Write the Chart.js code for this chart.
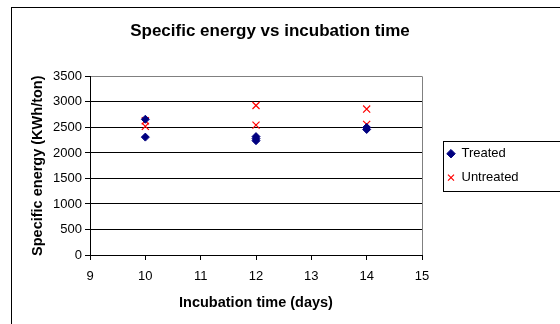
<!DOCTYPE html>
<html>
<head>
<meta charset="utf-8">
<script src="https://cdn.jsdelivr.net/npm/chart.js@4"></script>
<style>
  html, body { margin: 0; padding: 0; background: #fff; overflow: hidden; }
  #wrap { position: relative; width: 560px; height: 324px; }
</style>
</head>
<body>
<div id="wrap"><canvas id="chart" width="560" height="324"></canvas></div>
<script>
// incubation time (days) and specific energy (KWh/ton)
const treatedDays = [10, 10, 12, 12, 12, 14, 14];
const treatedEnergy = [2660, 2310, 2320, 2280, 2240, 2500, 2460];
const untreatedDays = [10, 10, 12, 12, 14, 14];
const untreatedEnergy = [2630, 2520, 2930, 2545, 2860, 2560];
const xTicks = [9, 10, 11, 12, 13, 14, 15];
const yTicks = [0, 500, 1000, 1500, 2000, 2500, 3000, 3500];

const FONT = "'Liberation Sans', Arial, sans-serif";

function toPoints(xs, ys) {
  return xs.map((x, i) => ({ x: x, y: ys[i] }));
}

// white page with the outer chart frame
const frame = {
  id: "frame",
  beforeDraw(chart) {
    const ctx = chart.ctx;
    ctx.save();
    ctx.fillStyle = "#fff";
    ctx.fillRect(0, 0, chart.width, chart.height);
    ctx.strokeStyle = "#000";
    ctx.lineWidth = 1;
    ctx.strokeRect(11.5, 7.5, chart.width + 20, chart.height + 20);
    ctx.restore();
  },
};

// box round the legend, like the spreadsheet one
const legendBox = {
  id: "legendBox",
  afterDraw(chart) {
    const boxes = chart.legend.legendHitBoxes;
    if (!boxes || !boxes.length) return;
    const ctx = chart.ctx;
    const top = Math.round(boxes[0].top - 6.5) + 0.5;
    const bottom = Math.round(boxes[boxes.length - 1].top + boxes[boxes.length - 1].height + 6.5) + 0.5;
    const left = Math.round(chart.legend.left + 7) + 0.5;
    ctx.save();
    ctx.strokeStyle = "#000";
    ctx.lineWidth = 1;
    ctx.strokeRect(left, top, chart.width + 20 - left, bottom - top);
    ctx.restore();
  },
};

new Chart(document.getElementById("chart"), {
  type: "scatter",
  data: {
    datasets: [
      {
        label: "Treated",
        data: toPoints(treatedDays, treatedEnergy),
        pointStyle: "rectRot",
        pointRadius: 4,
        pointHoverRadius: 4,
        backgroundColor: "#000080",
        borderColor: "#000080",
        borderWidth: 1,
      },
      {
        label: "Untreated",
        data: toPoints(untreatedDays, untreatedEnergy),
        pointStyle: "crossRot",
        pointRadius: 5,
        pointHoverRadius: 5,
        backgroundColor: "#ff0000",
        borderColor: "#ff0000",
        borderWidth: 1.2,
      },
    ],
  },
  options: {
    responsive: false,
    animation: false,
    events: [],
    layout: { padding: { left: 21, right: 41, top: 0, bottom: 0 } },
    plugins: {
      title: {
        display: true,
        text: "Specific energy vs incubation time",
        color: "#000",
        font: { family: FONT, size: 17, weight: "bold" },
        padding: { top: 21, bottom: 35 },
      },
      legend: {
        position: "right",
        fullSize: false,
        align: "center",
        labels: {
          usePointStyle: true,
          boxWidth: 8,
          boxHeight: 6,
          padding: 11,
          color: "#000",
          font: { family: FONT, size: 13 },
        },
      },
      tooltip: { enabled: false },
    },
    scales: {
      x: {
        type: "linear",
        min: 9,
        max: 15,
        afterBuildTicks: (axis) => {
          axis.ticks = xTicks.map((v) => ({ value: v }));
        },
        afterFit: (axis) => {
          axis.height = 69;
        },
        ticks: {
          color: "#000",
          padding: 9,
          font: { family: FONT, size: 13 },
          callback: (v) => String(v),
        },
        grid: {
          color: (c) => (c.tick && c.tick.value === 15 ? "#808080" : "rgba(0,0,0,0)"),
          tickColor: "#000",
          tickLength: 5,
        },
        border: { color: "#000", width: 1 },
        title: {
          display: true,
          text: "Incubation time (days)",
          color: "#000",
          font: { family: FONT, size: 14.5, weight: "bold" },
          padding: { top: 0, bottom: 12 },
        },
      },
      y: {
        min: 0,
        max: 3500,
        afterBuildTicks: (axis) => {
          axis.ticks = yTicks.map((v) => ({ value: v }));
        },
        afterFit: (axis) => {
          axis.width = 69;
        },
        ticks: {
          color: "#000",
          padding: 3,
          font: { family: FONT, size: 13 },
          callback: (v) => String(v),
        },
        grid: {
          color: (c) => (c.tick && c.tick.value === 3500 ? "#808080" : "#000"),
          tickColor: "#000",
          tickLength: 5,
        },
        border: { color: "#000", width: 1 },
        title: {
          display: true,
          text: "Specific energy (KWh/ton)",
          color: "#000",
          font: { family: FONT, size: 14.5, weight: "bold" },
          padding: { top: 8, bottom: 0 },
        },
      },
      // empty axis on the right, only keeps a gap before the legend
      gap: {
        type: "linear",
        position: "right",
        display: true,
        ticks: { display: false },
        grid: { display: false },
        border: { display: false },
        afterFit: (axis) => {
          axis.width = 14;
        },
      },
    },
  },
  plugins: [frame, legendBox],
});
</script>
</body>
</html>
